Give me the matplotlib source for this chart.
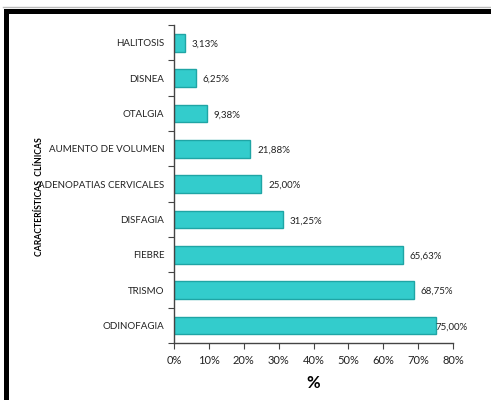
import numpy as np
import matplotlib.pyplot as plt
from matplotlib.lines import Line2D
from matplotlib.patches import Rectangle

plt.rcParams['font.family'] = ['Lato', 'DejaVu Sans']

# Clinical features (bottom to top) and share of patients
categorias = ['ODINOFAGIA', 'TRISMO', 'FIEBRE', 'DISFAGIA',
              'ADENOPATIAS CERVICALES', 'AUMENTO DE VOLUMEN',
              'OTALGIA', 'DISNEA', 'HALITOSIS']
porcentajes = [75.00, 68.75, 65.63, 31.25, 25.00, 21.88, 9.38, 6.25, 3.13]
ticks_x = [0, 10, 20, 30, 40, 50, 60, 70, 80]

W, H = 491, 400
fig = plt.figure(figsize=(W / 100, H / 100), dpi=100)
ax = fig.add_axes([174 / W, 1 - 343 / H, (453 - 174) / W, (343 - 25) / H])

y = np.arange(len(categorias))
ax.barh(y, porcentajes, height=0.5, color='#33CCCC', edgecolor='#1FA5A5',
        linewidth=1.0, zorder=2)

for yi, v in zip(y, porcentajes):
    txt = f'{v:.2f}%'.replace('.', ',')
    off = 0 if v > 70 else 5
    ax.annotate(txt, (v, yi), xytext=(off, -1), textcoords='offset points',
                va='center', ha='left', fontsize=7, color='#222222')

ax.set_xlim(0, 80)
ax.set_ylim(-0.5, len(categorias) - 0.5)
ax.set_xticks(ticks_x)
ax.set_xticklabels([f'{t}%' for t in ticks_x], fontsize=8, color='#222222')

# category boundaries get the tick marks, centres carry the labels
ax.set_yticks(np.arange(-0.5, len(categorias)), minor=False)
ax.set_yticklabels([])
ax.set_yticks(y, minor=True)
ax.set_yticklabels(categorias, minor=True, fontsize=7, color='#222222')
ax.tick_params(axis='y', which='major', length=4, direction='out', color='#444444')
ax.tick_params(axis='y', which='minor', length=0, pad=7)
ax.tick_params(axis='x', length=4, direction='out', color='#444444', pad=5)

for s in ['top', 'right']:
    ax.spines[s].set_visible(False)
for s in ['left', 'bottom']:
    ax.spines[s].set_color('#444444')
    ax.spines[s].set_linewidth(1.0)

ax.set_xlabel('%', fontsize=12, fontweight='bold', labelpad=6)
fig.text(39 / W, 1 - 197 / H, 'CARACTERÍSTICAS  CLÍNICAS', rotation=90,
         ha='center', va='center', fontsize=6.2, fontweight='bold')

# frame around the figure
fig.add_artist(Line2D([3 / W, 1], [1 - 7 / H, 1 - 7 / H], color='#BBBBBB', lw=1))
fig.add_artist(Rectangle((4 / W, 1 - 13.5 / H), 1, 4.5 / H, color='black', lw=0))
fig.add_artist(Rectangle((4 / W, 0), 5 / W, 1 - 9 / H, color='black', lw=0))

fig.savefig('out.png', dpi=100)
